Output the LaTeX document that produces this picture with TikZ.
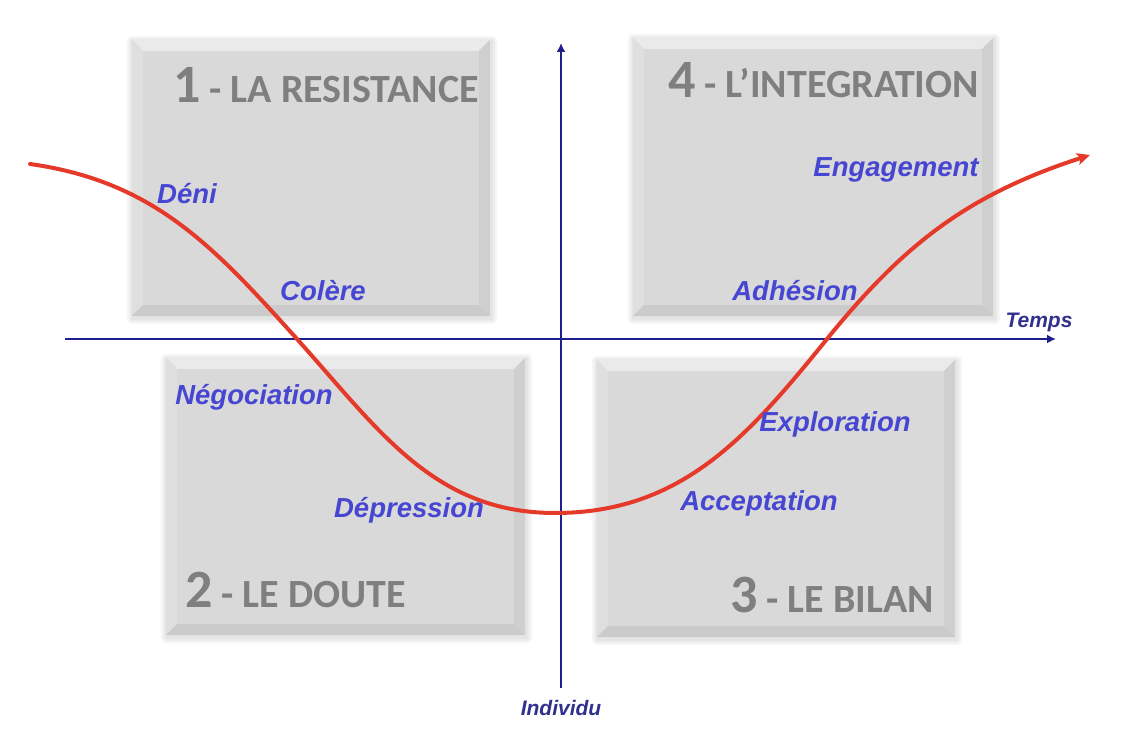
\documentclass[tikz,border=0pt]{standalone}
\usepackage{fontspec}
\usetikzlibrary{arrows.meta,calc,shadows}
\newfontfamily\titlefont{Carlito}
\newfontfamily\lblfont{Liberation Sans}
\definecolor{boxface}{HTML}{D9D9D9}
\definecolor{bevtop}{HTML}{EAEAEA}
\definecolor{bevleft}{HTML}{DFDFDF}
\definecolor{bevright}{HTML}{CFCFCF}
\definecolor{bevbot}{HTML}{CBCBCB}
\definecolor{titlegray}{HTML}{7F7F7F}
\definecolor{lblblue}{HTML}{4646D2}
\definecolor{axisnavy}{HTML}{1E1E8C}
\definecolor{axislbl}{HTML}{30308F}
\definecolor{curvered}{HTML}{E5392A}
\newlength\bevw
\setlength\bevw{11pt}
\newcommand\bevelfaces[1]{%
  \fill[bevtop] (#1.north west) -- (#1.north east) -- ($(#1.north east)+(-\bevw,-\bevw)$) -- ($(#1.north west)+(\bevw,-\bevw)$) -- cycle;
  \fill[bevleft] (#1.north west) -- ($(#1.north west)+(\bevw,-\bevw)$) -- ($(#1.south west)+(\bevw,\bevw)$) -- (#1.south west) -- cycle;
  \fill[bevright] (#1.north east) -- ($(#1.north east)+(-\bevw,-\bevw)$) -- ($(#1.south east)+(-\bevw,\bevw)$) -- (#1.south east) -- cycle;
  \fill[bevbot] (#1.south west) -- ($(#1.south west)+(\bevw,\bevw)$) -- ($(#1.south east)+(-\bevw,\bevw)$) -- (#1.south east) -- cycle;
}
\newcommand\softshadow[1]{%
  \foreach \g in {6,4,2} {
    \fill[black, opacity=0.035, rounded corners=\g pt] ($(#1.south west)+(-\g pt+1pt,-\g pt-2pt)$) rectangle ($(#1.north east)+(\g pt+1pt,\g pt-2pt)$);
  }
}
\tikzset{
  quad/.style={rectangle, fill=boxface, inner sep=0pt},
  qtitle/.style={anchor=base west, inner sep=0pt, text=titlegray, font=\titlefont\bfseries\fontsize{40}{40}\selectfont},
  stage/.style={inner sep=0pt, text=lblblue, font=\lblfont\bfseries\itshape\fontsize{27.5}{28}\selectfont},
  axlbl/.style={inner sep=0pt, text=axislbl, font=\lblfont\bfseries\itshape\fontsize{21}{22}\selectfont},
  axis/.style={draw=axisnavy, line width=2.6pt, -{Latex[length=9pt,width=9pt]}},
  journey/.style={draw=curvered, line width=4pt, line cap=round, -{Stealth[length=13pt,width=12pt,inset=3pt]}},
}
\newcommand\bignum[1]{{\fontsize{54}{54}\selectfont #1}}
\begin{document}
\begin{tikzpicture}[x=1pt,y=1pt]
\useasboundingbox (0,0) rectangle (1122,750);
% box geometry (invisible) for shadows
\path (311,572) node[minimum width=358pt, minimum height=276pt, inner sep=0pt] (s1) {};
\path (813,573) node[minimum width=360pt, minimum height=278pt, inner sep=0pt] (s4) {};
\path (345.5,253.5) node[minimum width=359pt, minimum height=277pt, inner sep=0pt] (s2) {};
\path (776,251.5) node[minimum width=358pt, minimum height=277pt, inner sep=0pt] (s3) {};
\softshadow{s1}
\softshadow{s4}
\softshadow{s2}
\softshadow{s3}
% quadrant boxes
\node[quad, minimum width=358pt, minimum height=276pt] (b1) at (311,572) {};
\node[quad, minimum width=360pt, minimum height=278pt] (b4) at (813,573) {};
\node[quad, minimum width=359pt, minimum height=277pt] (b2) at (345.5,253.5) {};
\node[quad, minimum width=358pt, minimum height=277pt] (b3) at (776,251.5) {};
\bevelfaces{b1}
\bevelfaces{b4}
\bevelfaces{b2}
\bevelfaces{b3}
% titles
\node[qtitle] (t1) at (173,647) {\bignum{1} - LA RESISTANCE};
\node[qtitle] (t4) at (668,652) {\bignum{4} - L’INTEGRATION};
\node[qtitle] (t2) at (185,142) {\bignum{2} - LE DOUTE};
\node[qtitle] (t3) at (730,137) {\bignum{3} - LE BILAN};
% axes
\coordinate (hx0) at (65,411);
\coordinate (hx1) at (1056,411);
\coordinate (vy0) at (561,62);
\coordinate (vy1) at (561,707);
\draw[axis] (hx0) -- (hx1);
\draw[axis] (vy0) -- (vy1);
\node[axlbl] (temps) at (1039,428) {Temps};
\node[axlbl] (indiv) at (561,42) {Individu};
% curve
\coordinate (c0) at (30,586);
\coordinate (c1) at (297,411);
\coordinate (c2) at (555,237);
\coordinate (c3) at (827,411);
\coordinate (c4) at (1090,595);
\draw[journey] (c0) to[out=-8,in=132] (c1) to[out=-48,in=180] (c2) to[out=0,in=-129] (c3) to[out=51,in=198] (c4);
% stage labels
\node[stage] (deni) at (187,556) {Déni};
\node[stage] (colere) at (323,459) {Colère};
\node[stage] (nego) at (254,353) {Négociation};
\node[stage] (depr) at (409,240) {Dépression};
\node[stage] (accept) at (759,247) {Acceptation};
\node[stage] (explo) at (835,326) {Exploration};
\node[stage] (adhes) at (795,459) {Adhésion};
\node[stage] (engag) at (896,580) {Engagement};
\end{tikzpicture}
\end{document}
